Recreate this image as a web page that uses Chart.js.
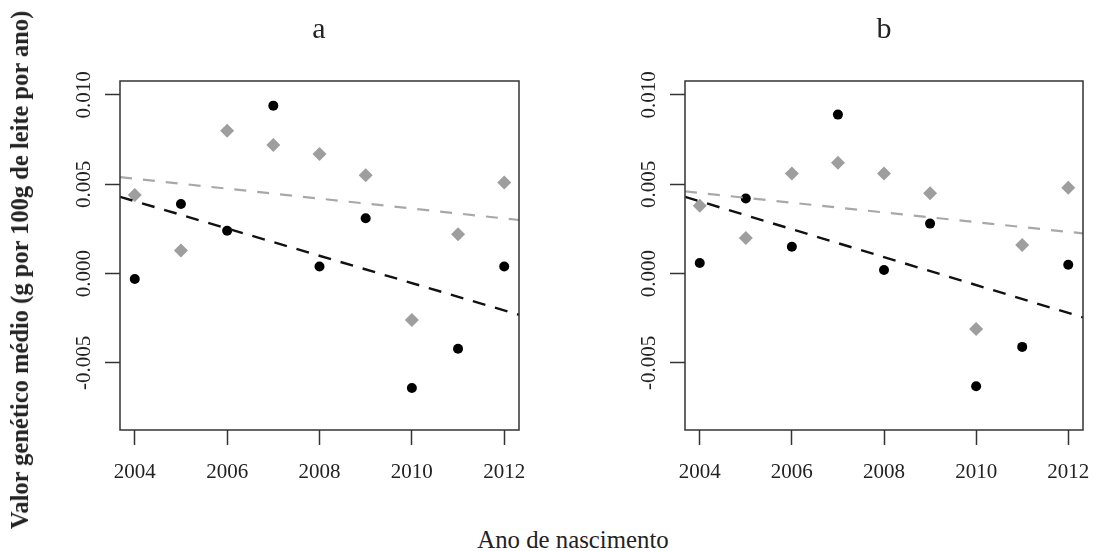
<!DOCTYPE html>
<html>
<head>
<meta charset="utf-8">
<script src="https://cdn.jsdelivr.net/npm/chart.js@4.4.0/dist/chart.umd.min.js"></script>
<style>
  body { margin: 0; background: #fff; }
  #pagina { position: relative; width: 1096px; height: 551px; overflow: hidden; font-family: "Liberation Serif", "Times New Roman", serif; color: #222; }
  .painel { position: absolute; top: 0; height: 500px; }
  #grafico_a { left: 0; width: 560px; }
  #grafico_b { left: 560px; width: 536px; }
  .titulo { position: absolute; top: 11px; font-size: 30px; transform: translateX(-50%); }
  #titulo_y { position: absolute; left: 20px; top: 270px; font-size: 24.5px; font-weight: bold; white-space: nowrap; transform: translate(-50%, -50%) rotate(-90deg); }
  #titulo_x { position: absolute; left: 573px; top: 540px; font-size: 24.8px; white-space: nowrap; transform: translate(-50%, -50%); }
</style>
</head>
<body>
<div id="pagina">
  <div class="painel" id="grafico_a"><canvas id="canvas_a" width="560" height="500"></canvas></div>
  <div class="painel" id="grafico_b"><canvas id="canvas_b" width="536" height="500"></canvas></div>
  <div class="titulo" style="left:319px">a</div>
  <div class="titulo" style="left:884px">b</div>
  <div id="titulo_y">Valor genético médio (g por 100g de leite por ano)</div>
  <div id="titulo_x">Ano de nascimento</div>
</div>
<script>
// dados
const anos = [2004, 2005, 2006, 2007, 2008, 2009, 2010, 2011, 2012];
const preto_a = [-0.0003, 0.0039, 0.0024, 0.0094, 0.0004, 0.0031, -0.0064, -0.0042, 0.0004];
const cinza_a = [0.0044, 0.0013, 0.0080, 0.0072, 0.0067, 0.0055, -0.0026, 0.0022, 0.0051];
const preto_b = [0.0006, 0.0042, 0.0015, 0.0089, 0.0002, 0.0028, -0.0063, -0.0041, 0.0005];
const cinza_b = [0.0038, 0.0020, 0.0056, 0.0062, 0.0056, 0.0045, -0.0031, 0.0016, 0.0048];

// retas de regressao (extremos)
const reta_x = [2003.68, 2012.32];
const reta_preto_a = [0.0043, -0.0023];
const reta_cinza_a = [0.0054, 0.0030];
const reta_preto_b = [0.0043, -0.00245];
const reta_cinza_b = [0.0046, 0.00225];

const ticks_x = [2004, 2006, 2008, 2010, 2012];
const ticks_y = [-0.005, 0.0, 0.005, 0.010];

const y_min = -0.00875;
const y_max = 0.01078;

function pontos(xs, ys) {
  return xs.map(function (x, i) {
    return { x: x, y: ys[i] };
  });
}

// caixa em volta da area do grafico
const caixa = {
  id: "caixa",
  afterDraw: function (chart) {
    const a = chart.chartArea;
    const ctx = chart.ctx;
    ctx.save();
    ctx.strokeStyle = "#333";
    ctx.lineWidth = 1.5;
    ctx.strokeRect(a.left, a.top, a.right - a.left, a.bottom - a.top);
    ctx.restore();
  },
};

function gera_painel(id, preto, cinza, reta_preto, reta_cinza, largura_y, padding_dir) {
  const ctx = document.getElementById(id).getContext("2d");
  const fonte = { family: "'Liberation Serif', 'Times New Roman', serif", size: 21 };
  return new Chart(ctx, {
    type: "scatter",
    data: {
      datasets: [
        {
          type: "line",
          data: pontos(reta_x, reta_cinza),
          borderColor: "#a8a8a8",
          borderWidth: 2.2,
          borderDash: [12, 11],
          pointRadius: 0,
          fill: false,
        },
        {
          type: "line",
          data: pontos(reta_x, reta_preto),
          borderColor: "#111",
          borderWidth: 2.4,
          borderDash: [13, 10],
          pointRadius: 0,
          fill: false,
        },
        {
          data: pontos(anos, preto),
          pointStyle: "circle",
          pointRadius: 5,
          backgroundColor: "#000",
          borderColor: "#000",
          borderWidth: 0,
        },
        {
          data: pontos(anos, cinza),
          pointStyle: "rectRot",
          pointRadius: 7,
          backgroundColor: "#9e9e9e",
          borderColor: "#9e9e9e",
          borderWidth: 0,
        },
      ],
    },
    options: {
      responsive: false,
      animation: false,
      layout: { padding: { top: 81, right: padding_dir, bottom: 0, left: 0 } },
      plugins: { legend: { display: false }, tooltip: { enabled: false } },
      scales: {
        x: {
          type: "linear",
          min: reta_x[0],
          max: reta_x[1],
          afterBuildTicks: function (scale) {
            scale.ticks = ticks_x.map(function (v) { return { value: v }; });
          },
          afterFit: function (scale) {
            scale.height = 70;
            scale.paddingLeft = 0;
            scale.paddingRight = 0;
          },
          grid: { drawOnChartArea: false, drawTicks: true, tickLength: 15, tickWidth: 1.5, tickColor: "#333" },
          border: { display: false },
          ticks: {
            color: "#222",
            font: fonte,
            padding: 15,
            maxRotation: 0,
            autoSkip: false,
            callback: function (v) { return String(v); },
          },
        },
        y: {
          min: y_min,
          max: y_max,
          afterBuildTicks: function (scale) {
            scale.ticks = ticks_y.map(function (v) { return { value: v }; });
          },
          afterFit: function (scale) { scale.width = largura_y; },
          grid: { drawOnChartArea: false, drawTicks: true, tickLength: 15, tickWidth: 1.5, tickColor: "#333" },
          border: { display: false },
          ticks: {
            color: "#222",
            font: fonte,
            minRotation: 90,
            maxRotation: 90,
            crossAlign: "center",
            padding: -7,
            autoSkip: false,
            callback: function (v) { return v.toFixed(3); },
          },
        },
      },
    },
    plugins: [caixa],
  });
}

gera_painel("canvas_a", preto_a, cinza_a, reta_preto_a, reta_cinza_a, 120, 41);
gera_painel("canvas_b", preto_b, cinza_b, reta_preto_b, reta_cinza_b, 125, 13);
</script>
</body>
</html>
